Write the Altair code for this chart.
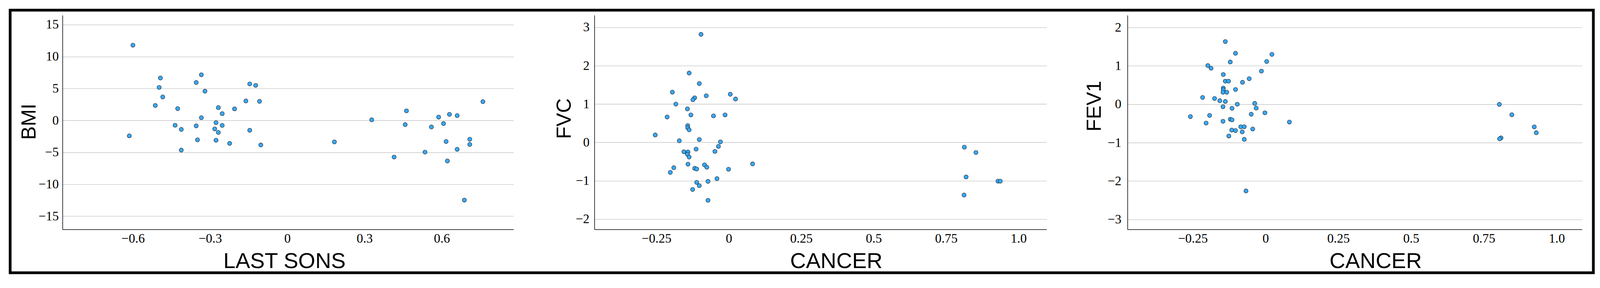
import altair as alt
import pandas as pd

# ---------------- data ----------------
bmi_x = [-0.600, -0.614, -0.513, -0.493, -0.498, -0.484, -0.426, -0.436, -0.412, -0.412,
         -0.354, -0.334, -0.320, -0.334, -0.354, -0.349, -0.277, -0.282, -0.268, -0.253,
         -0.253, -0.268, -0.277, -0.224, -0.205, -0.161, -0.146, -0.123, -0.108, -0.146,
         -0.103, 0.183, 0.328, 0.415, 0.458, 0.463, 0.535, 0.560, 0.588, 0.607,
         0.630, 0.660, 0.617, 0.622, 0.660, 0.709, 0.709, 0.688, 0.760]
bmi_y = [11.77, -2.41, 2.34, 6.63, 5.16, 3.67, 1.85, -0.76, -1.41, -4.65,
         5.93, 7.14, 4.57, 0.43, -0.86, -3.04, -0.35, -1.33, 2.00, 1.06,
         -0.78, -1.88, -3.10, -3.59, 1.81, 3.04, 5.71, 5.48, 2.98, -1.55,
         -3.84, -3.36, 0.09, -5.74, -0.66, 1.49, -4.96, -1.03, 0.52, -0.49,
         0.95, 0.75, -3.30, -6.34, -4.53, -2.95, -3.76, -12.47, 2.93]

fvc_x = [-0.096, -0.137, -0.102, -0.195, -0.078, 0.005, 0.023, -0.118, -0.124, -0.183,
         -0.143, -0.131, -0.213, -0.053, -0.013, -0.142, -0.142, -0.137, -0.254, -0.171,
         -0.102, -0.029, -0.036, -0.113, -0.048, -0.155, -0.141, -0.143, -0.137, -0.141,
         -0.084, -0.076, -0.118, -0.111, -0.190, -0.202, -0.001, 0.082, -0.041, -0.072,
         -0.111, -0.102, -0.125, -0.072, 0.813, 0.853, 0.819, 0.812, 0.929, 0.937]
fvc_y = [2.817, 1.808, 1.534, 1.309, 1.216, 1.255, 1.131, 1.163, 1.113, 0.999,
         0.874, 0.717, 0.663, 0.692, 0.717, 0.439, 0.382, 0.328, 0.193, 0.043,
         0.075, 0.014, -0.103, -0.175, -0.235, -0.243, -0.250, -0.310, -0.382, -0.567,
         -0.585, -0.646, -0.674, -0.692, -0.660, -0.781, -0.699, -0.560, -0.945, -1.016,
         -1.041, -1.127, -1.227, -1.509, -0.124, -0.263, -0.900, -1.373, -1.010, -1.010]

fev_x = [-0.138, -0.103, 0.022, -0.121, 0.004, -0.198, -0.187, -0.014, -0.145, -0.056,
         -0.138, -0.127, -0.079, -0.145, -0.145, -0.146, -0.133, -0.103, -0.216, -0.175,
         -0.157, -0.138, -0.097, -0.037, -0.146, -0.115, -0.032, -0.002, -0.049, -0.258,
         -0.192, -0.121, -0.115, -0.146, -0.204, 0.082, -0.085, -0.073, -0.044, -0.116,
         -0.103, -0.080, -0.126, -0.073, -0.067, 0.803, 0.846, 0.923, 0.930, 0.809, 0.804]
fev_y = [1.632, 1.326, 1.299, 1.099, 1.113, 1.007, 0.936, 0.862, 0.773, 0.665,
         0.600, 0.600, 0.570, 0.421, 0.380, 0.312, 0.312, 0.384, 0.177, 0.150,
         0.092, 0.072, 0.000, 0.021, -0.064, -0.105, -0.101, -0.224, -0.261, -0.322,
         -0.291, -0.390, -0.407, -0.444, -0.491, -0.464, -0.586, -0.586, -0.644, -0.674,
         -0.685, -0.719, -0.827, -0.915, -2.258, -0.005, -0.273, -0.589, -0.742, -0.876, -0.900]

bmi_xticks = [-0.6, -0.3, 0, 0.3, 0.6]
bmi_yticks = [-15, -10, -5, 0, 5, 10, 15]
cancer_xticks = [-0.25, 0, 0.25, 0.5, 0.75, 1.0]
fvc_yticks = [-2, -1, 0, 1, 2, 3]
fev_yticks = [-3, -2, -1, 0, 1, 2]

# ---------------- style ----------------
FILL = "#38a9f5"
EDGE = "#1a2530"
H = 548


def panel(xs, ys, xdom, ydom, xticks, yticks, xtitle, ytitle, width,
          ylabpad, ytx, yty, xtx, label_expr, frame=False):
    df = pd.DataFrame({"x": xs, "y": ys})
    pts = alt.Chart(df).mark_circle(
        size=112, fill=FILL, stroke=EDGE, strokeWidth=1.1, opacity=1
    ).encode(
        x=alt.X("x:Q",
                scale=alt.Scale(domain=xdom, nice=False, zero=False),
                axis=alt.Axis(values=xticks, labelExpr=label_expr, grid=False,
                              ticks=False, domainColor="black", domainWidth=1.5,
                              labelPadding=8, labelFlush=False, labelOverlap=False,
                              labelFont="Liberation Serif", labelFontSize=33,
                              labelColor="black",
                              title=xtitle, titleFont="Liberation Sans",
                              titleFontSize=56, titleFontWeight="normal",
                              titleColor="black", titleX=xtx, titleY=99,
                              titleBaseline="alphabetic", titleAlign="center")),
        y=alt.Y("y:Q",
                scale=alt.Scale(domain=ydom, nice=False, zero=False),
                axis=alt.Axis(values=yticks, format="~g", grid=True,
                              gridColor="#c4c4c4", gridWidth=1.3,
                              ticks=False, domainColor="black", domainWidth=1.5,
                              labelPadding=ylabpad, labelFlush=False,
                              labelOverlap=False,
                              labelFont="Liberation Serif", labelFontSize=33,
                              labelColor="black",
                              title=ytitle, titleFont="Liberation Sans",
                              titleFontSize=52, titleFontWeight="normal",
                              titleColor="black", titleX=ytx, titleY=yty,
                              titleAngle=270, titleBaseline="alphabetic",
                              titleAlign="center")),
    )
    layers = [pts]
    if frame:
        box = alt.Chart(pd.DataFrame({"k": [0]})).mark_rect(
            filled=False, stroke="black", strokeWidth=7
        ).encode(
            x=alt.value(-134), x2=alt.value(3920),
            y=alt.value(-13), y2=alt.value(659)
        )
        layers.append(box)
    return alt.layer(*layers).properties(width=width, height=H)


expr_cancer = "datum.value == 1 ? '1.0' : format(datum.value, '~g')"
expr_bmi = "format(datum.value, '~g')"

p1 = panel(bmi_x, bmi_y, [-0.8736, 0.8791], [-17.05, 16.45], bmi_xticks, bmi_yticks,
           "LAST SONS", "BMI", 1155, 10, -69, 272, 568, expr_bmi, frame=True)
p2 = panel(fvc_x, fvc_y, [-0.4641, 1.097], [-2.267, 3.314], cancer_xticks, fvc_yticks,
           "CANCER", "FVC", 1158, 13, -61, 264, 619, expr_cancer)
p3 = panel(fev_x, fev_y, [-0.4741, 1.0871], [-3.258, 2.316], cancer_xticks, fev_yticks,
           "CANCER", "FEV1", 1164, 16, -69, 232, 635, expr_cancer)

chart = alt.hconcat(p1, p2, p3, spacing=207, bounds="flush").properties(
    padding={"left": 14, "top": 14, "right": 5, "bottom": 5},
    background="white",
).configure_view(strokeWidth=0)

chart.save("out.html", embed_options={"renderer": "svg", "actions": False})
